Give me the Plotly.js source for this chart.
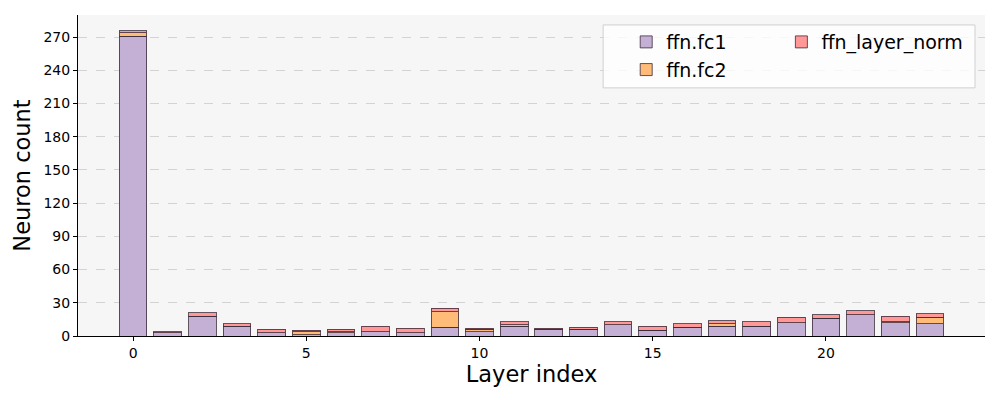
<!DOCTYPE html>
<html>
<head>
<meta charset="utf-8">
<script src="https://cdn.plot.ly/plotly-3.0.1.min.js"></script>
<style>
  body { margin: 0; background: #fff; }
  #plotDiv { width: 1000px; height: 400px; }
</style>
</head>
<body>
<div id="plotDiv"></div>
<script>
"use strict";

// Layer indices and neuron counts per module
const layers = [0, 1, 2, 3, 4, 5, 6, 7, 8, 9, 10, 11, 12, 13, 14, 15, 16, 17, 18, 19, 20, 21, 22, 23];
const fc1Counts  = [271, 3, 18, 9, 3, 1, 3, 4, 3, 8, 4, 9, 6, 6, 10, 5, 8, 9, 9, 12, 16, 19, 12, 11];
const fc2Counts  = [3, 0, 0, 0, 0, 3, 1, 0, 0, 14, 2, 1, 0, 0, 0, 0, 0, 2, 0, 0, 0, 0, 1, 6];
const normCounts = [2, 1, 3, 2, 3, 1, 2, 5, 4, 3, 1, 3, 1, 2, 3, 4, 3, 3, 4, 5, 3, 4, 5, 3];
const yTicks = [0, 30, 60, 90, 120, 150, 180, 210, 240, 270];
const xTicks = [0, 5, 10, 15, 20];

const EDGE = { color: 'rgba(60,45,60,0.8)', width: 1 };

function barTrace(name, values, color, legendName) {
    return {
        x: layers,
        y: values,
        name: name,
        type: 'bar',
        width: 0.8,
        legend: legendName,
        marker: { color: color, line: EDGE },
        hoverinfo: 'x+y+name'
    };
}

// fc1 + fc2 go in the first legend column, layer norm in the second
const traces = [
    barTrace('ffn.fc1', fc1Counts, '#c5b0d5', 'legend'),
    barTrace('ffn.fc2', fc2Counts, '#ffbb78', 'legend'),
    barTrace('ffn_layer_norm', normCounts, '#ff9896', 'legend2')
];

const legendFont = { size: 19, family: 'DejaVu Sans, sans-serif', color: '#000' };

const layout = {
    width: 1000,
    height: 400,
    margin: { l: 78, r: 15, t: 15, b: 64 },
    paper_bgcolor: '#ffffff',
    plot_bgcolor: '#f6f6f6',
    font: { family: 'DejaVu Sans, sans-serif', size: 14, color: '#000' },
    barmode: 'stack',
    bargap: 0,
    showlegend: true,
    legend: {
        orientation: 'v',
        x: 0.6044,
        y: 0.975,
        xanchor: 'left',
        yanchor: 'top',
        traceorder: 'normal',
        bgcolor: 'rgba(0,0,0,0)',
        borderwidth: 0,
        font: legendFont
    },
    legend2: {
        orientation: 'v',
        x: 0.7755,
        y: 0.975,
        xanchor: 'left',
        yanchor: 'top',
        bgcolor: 'rgba(0,0,0,0)',
        borderwidth: 0,
        font: legendFont
    },
    // shared frame around both legend columns
    shapes: [{
        type: 'rect',
        xref: 'paper', yref: 'paper',
        x0: 0.579, x1: 0.989, y0: 0.773, y1: 0.969,
        fillcolor: 'rgba(255,255,255,0.8)',
        line: { color: '#d0d0d0', width: 1 },
        layer: 'above'
    }],
    xaxis: {
        range: [-1.59, 24.59],
        tickvals: xTicks,
        ticks: 'outside',
        ticklen: 4,
        tickcolor: '#000',
        showgrid: false,
        zeroline: false,
        showline: true,
        linecolor: '#000',
        linewidth: 1,
        title: { text: 'Layer index', font: { size: 22.5 }, standoff: 6 }
    },
    yaxis: {
        range: [0, 290],
        tickvals: yTicks,
        ticks: 'outside',
        ticklen: 4,
        tickcolor: '#000',
        showgrid: true,
        gridcolor: '#d3d3d3',
        griddash: 'dash',
        gridwidth: 1,
        zeroline: false,
        showline: true,
        linecolor: '#000',
        linewidth: 1,
        title: { text: 'Neuron count', font: { size: 22.5 }, standoff: 6 }
    }
};

Plotly.newPlot('plotDiv', traces, layout, { staticPlot: true });
</script>
</body>
</html>
